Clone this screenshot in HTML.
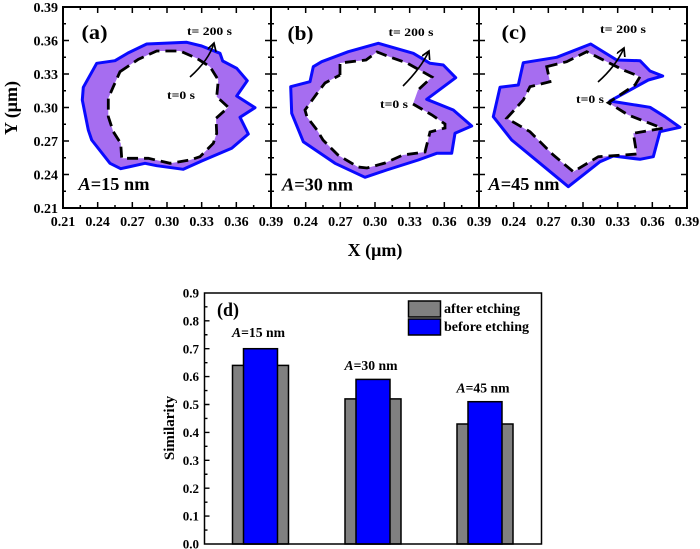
<!DOCTYPE html>
<html>
<head>
<meta charset="utf-8">
<style>
html,body{margin:0;padding:0;background:#fff;}
svg{display:block;}
text{font-family:"Liberation Serif","DejaVu Serif",serif;font-weight:bold;fill:#000;}
</style>
</head>
<body>
<svg width="700" height="549" viewBox="0 0 700 549" xmlns="http://www.w3.org/2000/svg">
<defs>
<marker id="ah" markerWidth="12" markerHeight="12" refX="8" refY="4.5" orient="auto" markerUnits="userSpaceOnUse">
<path d="M0,0 L8,4.5 L0,9" fill="none" stroke="#000" stroke-width="1.7"/>
</marker>
</defs>

<!-- ===== Panel (a) shapes ===== -->
<path fill="#a66df0" fill-rule="evenodd" d="M96.7,63.3 L115,60.7 L128,53 L146.7,44 L186.7,42.3 L201.7,46 L220,53.3 L222.7,61 L236.7,68.3 L247.3,80.7 L236.7,96 L255,107.7 L240,117.3 L248.3,134 L231.7,148.3 L201.7,161 L183.3,169.3 L156.7,165.7 L145,163.3 L120.7,168.7 L110,163.3 L91.7,140 L88.3,130 L82.3,100 L83.3,87.3 Z M120,71.7 L138.3,59.3 L156.7,51 L180,51 L196.7,58.3 L210,66.7 L218.3,80 L216.7,96.7 L228.3,107.3 L216,118.3 L216.7,133.3 L213.3,143.3 L200,156.7 L190,160 L170,163.3 L148.3,158.3 L121.7,158.3 L120.7,143.3 L113.3,131.7 L108.3,116.7 L108.3,98.3 L113.3,86.7 Z"/>
<path fill="none" stroke="#0a0aff" stroke-width="3" stroke-linejoin="round" d="M96.7,63.3 L115,60.7 L128,53 L146.7,44 L186.7,42.3 L201.7,46 L220,53.3 L222.7,61 L236.7,68.3 L247.3,80.7 L236.7,96 L255,107.7 L240,117.3 L248.3,134 L231.7,148.3 L201.7,161 L183.3,169.3 L156.7,165.7 L145,163.3 L120.7,168.7 L110,163.3 L91.7,140 L88.3,130 L82.3,100 L83.3,87.3 Z"/>
<path fill="none" stroke="#000" stroke-width="2.8" stroke-dasharray="11 6" d="M120,71.7 L138.3,59.3 L156.7,51 L180,51 L196.7,58.3 L210,66.7 L218.3,80 L216.7,96.7 L228.3,107.3 L216,118.3 L216.7,133.3 L213.3,143.3 L200,156.7 L190,160 L170,163.3 L148.3,158.3 L121.7,158.3 L120.7,143.3 L113.3,131.7 L108.3,116.7 L108.3,98.3 L113.3,86.7 Z"/>
<path fill="none" stroke="#000" stroke-width="1.6" d="M190,77 Q209,60 214,43" marker-end="url(#ah)"/>

<!-- ===== Panel (b) shapes ===== -->
<path fill="#a66df0" fill-rule="evenodd" d="M378.3,43.3 L413.3,53.3 L430,63.3 L443.3,65 L455.7,77.7 L426.7,99.3 L453.3,110 L471.7,126 L455,133.3 L451.7,153.3 L436.7,153.3 L418.3,160 L386.7,170 L365,177.3 L335,163.3 L303.3,141.7 L291.7,113.3 L290.7,86.7 L310,81.7 L313.3,66.7 L321.7,61.7 L348.3,51.7 Z M340,75 L340,63 L366,60 L377,52 L390,57 L407,63 L432,77 L418,90 L413,104 L432,115 L445,124 L445,128 L430,132 L425,152 L403,155 L385,163 L367,168 L358,167 L338,155 L323,140 L317,130 L307,117 L305,110 L318,92 L325,83 Z"/>
<path fill="none" stroke="#0a0aff" stroke-width="3" stroke-linejoin="round" d="M378.3,43.3 L413.3,53.3 L430,63.3 L443.3,65 L455.7,77.7 L426.7,99.3 L453.3,110 L471.7,126 L455,133.3 L451.7,153.3 L436.7,153.3 L418.3,160 L386.7,170 L365,177.3 L335,163.3 L303.3,141.7 L291.7,113.3 L290.7,86.7 L310,81.7 L313.3,66.7 L321.7,61.7 L348.3,51.7 Z"/>
<path fill="none" stroke="#000" stroke-width="2.8" stroke-dasharray="11 6" d="M340,75 L340,63 L366,60 L377,52 L390,57 L407,63 L432,77 L418,90 M413,104 L432,115 L445,124 L445,128 L430,132 L425,152 L403,155 L385,163 L367,168 L358,167 L338,155 L323,140 L317,130 L307,117 L305,110 L318,92 L325,83 L340,75"/>
<path fill="none" stroke="#000" stroke-width="1.6" d="M403,86 Q421,68 429,51" marker-end="url(#ah)"/>

<!-- ===== Panel (c) shapes ===== -->
<path fill="#a66df0" fill-rule="evenodd" d="M590.7,44 L616.7,60 L640,60.7 L650,71 L662.7,76 L648.3,80 L610,101 L650,107.3 L665,116.7 L680,127.3 L660,131.7 L653.3,156.7 L640,159.3 L613.3,156 L600,161.7 L568.3,186.7 L540,163.3 L511.7,140 L493.3,116.7 L500,87.3 L518.3,85 L523.3,62.7 L556.7,57.3 Z M546.7,66.7 L566.7,61.7 L586.7,51.7 L603.3,60 L623.3,70 L640,76.7 L635,85 L608.3,102.7 L628.3,115 L662.7,128.3 L633.3,133.3 L636.7,154 L623.3,155 L598.3,156.7 L573.3,171.7 L553.3,155 L530,131.7 L506.7,118.3 L523.3,100 L530,86.7 L550,81.7 Z"/>
<path fill="none" stroke="#0a0aff" stroke-width="3" stroke-linejoin="round" d="M590.7,44 L616.7,60 L640,60.7 L650,71 L662.7,76 L648.3,80 L610,101 L650,107.3 L665,116.7 L680,127.3 L660,131.7 L653.3,156.7 L640,159.3 L613.3,156 L600,161.7 L568.3,186.7 L540,163.3 L511.7,140 L493.3,116.7 L500,87.3 L518.3,85 L523.3,62.7 L556.7,57.3 Z"/>
<path fill="none" stroke="#000" stroke-width="2.8" stroke-dasharray="11 6" d="M546.7,66.7 L566.7,61.7 L586.7,51.7 L603.3,60 L623.3,70 L640,76.7 L635,85 L608.3,102.7 L628.3,115 L662.7,128.3 L633.3,133.3 L636.7,154 L623.3,155 L598.3,156.7 L573.3,171.7 L553.3,155 L530,131.7 L506.7,118.3 L523.3,100 L530,86.7 L550,81.7 Z"/>
<path fill="none" stroke="#000" stroke-width="1.6" d="M598,82 Q616,66 624,48" marker-end="url(#ah)"/>

<!-- ===== Frames top ===== -->
<rect x="63" y="7" width="624" height="201" fill="none" stroke="#000" stroke-width="2"/>
<line x1="271" y1="7" x2="271" y2="208" stroke="#000" stroke-width="2"/>
<line x1="479" y1="7" x2="479" y2="208" stroke="#000" stroke-width="2"/>

<!-- X ticks bottom & top -->
<path fill="none" stroke="#000" stroke-width="1.5" d="
M63,208v-6M97.67,208v-6M132.33,208v-6M167,208v-6M201.67,208v-6M236.33,208v-6M271,208v-6M305.67,208v-6M340.33,208v-6M375,208v-6M409.67,208v-6M444.33,208v-6M479,208v-6M513.67,208v-6M548.33,208v-6M583,208v-6M617.67,208v-6M652.33,208v-6M687,208v-6
M80.33,208v-3M115,208v-3M149.67,208v-3M184.33,208v-3M219,208v-3M253.67,208v-3M288.33,208v-3M323,208v-3M357.67,208v-3M392.33,208v-3M427,208v-3M461.67,208v-3M496.33,208v-3M531,208v-3M565.67,208v-3M600.33,208v-3M635,208v-3M669.67,208v-3
M63,7v6M97.67,7v6M132.33,7v6M167,7v6M201.67,7v6M236.33,7v6M271,7v6M305.67,7v6M340.33,7v6M375,7v6M409.67,7v6M444.33,7v6M479,7v6M513.67,7v6M548.33,7v6M583,7v6M617.67,7v6M652.33,7v6M687,7v6
M80.33,7v3M115,7v3M149.67,7v3M184.33,7v3M219,7v3M253.67,7v3M288.33,7v3M323,7v3M357.67,7v3M392.33,7v3M427,7v3M461.67,7v3M496.33,7v3M531,7v3M565.67,7v3M600.33,7v3M635,7v3M669.67,7v3
"/>
<!-- Y ticks -->
<path fill="none" stroke="#000" stroke-width="1.5" d="
M63,174.5h6M63,141h6M63,107.5h6M63,74h6M63,40.5h6
M63,191.25h3M63,157.75h3M63,124.25h3M63,90.75h3M63,57.25h3M63,23.75h3
M265,174.5h12M265,141h12M265,107.5h12M265,74h12M265,40.5h12
M268,191.25h6M268,157.75h6M268,124.25h6M268,90.75h6M268,57.25h6M268,23.75h6
M473,174.5h12M473,141h12M473,107.5h12M473,74h12M473,40.5h12
M476,191.25h6M476,157.75h6M476,124.25h6M476,90.75h6M476,57.25h6M476,23.75h6
M687,174.5h-6M687,141h-6M687,107.5h-6M687,74h-6M687,40.5h-6
M687,191.25h-3M687,157.75h-3M687,124.25h-3M687,90.75h-3M687,57.25h-3M687,23.75h-3
"/>

<!-- Y tick labels -->
<g font-size="14" text-anchor="end">
<text x="58" y="12">0.39</text>
<text x="58" y="45.5">0.36</text>
<text x="58" y="79">0.33</text>
<text x="58" y="112.5">0.30</text>
<text x="58" y="146">0.27</text>
<text x="58" y="179.5">0.24</text>
<text x="58" y="213">0.21</text>
</g>
<!-- X tick labels -->
<g font-size="14" text-anchor="middle">
<text x="63" y="226">0.21</text>
<text x="97.67" y="226">0.24</text>
<text x="132.33" y="226">0.27</text>
<text x="167" y="226">0.30</text>
<text x="201.67" y="226">0.33</text>
<text x="236.33" y="226">0.36</text>
<text x="271" y="226">0.39</text>
<text x="305.67" y="226">0.24</text>
<text x="340.33" y="226">0.27</text>
<text x="375" y="226">0.30</text>
<text x="409.67" y="226">0.33</text>
<text x="444.33" y="226">0.36</text>
<text x="479" y="226">0.39</text>
<text x="513.67" y="226">0.24</text>
<text x="548.33" y="226">0.27</text>
<text x="583" y="226">0.30</text>
<text x="617.67" y="226">0.33</text>
<text x="652.33" y="226">0.36</text>
<text x="687" y="226">0.39</text>
</g>

<text x="375" y="256" font-size="18" text-anchor="middle">X (μm)</text>
<text transform="translate(17,108) rotate(-90)" font-size="18" text-anchor="middle">Y (μm)</text>

<!-- panel labels -->
<text x="81.5" y="39" font-size="20" textLength="26" lengthAdjust="spacingAndGlyphs">(a)</text>
<text x="287.5" y="40" font-size="20" textLength="26" lengthAdjust="spacingAndGlyphs">(b)</text>
<text x="501.5" y="39" font-size="20" textLength="25" lengthAdjust="spacingAndGlyphs">(c)</text>

<text x="78.5" y="190" font-size="18" textLength="71" lengthAdjust="spacingAndGlyphs"><tspan font-style="italic">A</tspan>=15 nm</text>
<text x="282" y="190.5" font-size="18" textLength="71" lengthAdjust="spacingAndGlyphs"><tspan font-style="italic">A</tspan>=30 nm</text>
<text x="488.5" y="190" font-size="18" textLength="71" lengthAdjust="spacingAndGlyphs"><tspan font-style="italic">A</tspan>=45 nm</text>

<g font-size="12">
<text x="187" y="35" textLength="45" lengthAdjust="spacingAndGlyphs">t= 200 s</text>
<text x="167" y="99" textLength="28" lengthAdjust="spacingAndGlyphs">t=0 s</text>
<text x="388.5" y="36" textLength="45" lengthAdjust="spacingAndGlyphs">t= 200 s</text>
<text x="380" y="108" textLength="28" lengthAdjust="spacingAndGlyphs">t=0 s</text>
<text x="600" y="33" textLength="46" lengthAdjust="spacingAndGlyphs">t= 200 s</text>
<text x="576" y="103" textLength="28" lengthAdjust="spacingAndGlyphs">t=0 s</text>
</g>

<!-- ===== Panel (d) ===== -->
<g stroke="#000" stroke-width="1.5">
<rect x="232.5" y="365.4" width="56" height="178.6" fill="#808080"/>
<rect x="243.5" y="348.7" width="34" height="195.3" fill="#0000ff"/>
<rect x="345" y="398.9" width="56" height="145.1" fill="#808080"/>
<rect x="356" y="379.4" width="34" height="164.6" fill="#0000ff"/>
<rect x="457" y="424" width="56" height="120" fill="#808080"/>
<rect x="468" y="401.7" width="34" height="142.3" fill="#0000ff"/>
</g>
<rect x="204.5" y="293" width="337" height="251" fill="none" stroke="#000" stroke-width="1.5"/>
<path fill="none" stroke="#000" stroke-width="1.4" d="
M204.5,516.1h5M204.5,488.2h5M204.5,460.3h5M204.5,432.4h5M204.5,404.5h5M204.5,376.6h5M204.5,348.7h5M204.5,320.8h5
M204.5,530.05h3M204.5,502.15h3M204.5,474.25h3M204.5,446.35h3M204.5,418.45h3M204.5,390.55h3M204.5,362.65h3M204.5,334.75h3M204.5,306.85h3
"/>
<g font-size="13" text-anchor="end">
<text x="199" y="297.5">0.9</text>
<text x="199" y="325.4">0.8</text>
<text x="199" y="353.3">0.7</text>
<text x="199" y="381.2">0.6</text>
<text x="199" y="409.1">0.5</text>
<text x="199" y="437">0.4</text>
<text x="199" y="464.9">0.3</text>
<text x="199" y="492.8">0.2</text>
<text x="199" y="520.7">0.1</text>
<text x="199" y="548.6">0.0</text>
</g>
<text transform="translate(174,428) rotate(-90)" font-size="15" text-anchor="middle">Similarity</text>

<text x="217" y="316" font-size="19" textLength="22" lengthAdjust="spacingAndGlyphs">(d)</text>

<rect x="408.5" y="301" width="32" height="16" fill="#808080" stroke="#000" stroke-width="1.5"/>
<rect x="408.5" y="319" width="32" height="16" fill="#0000ff" stroke="#000" stroke-width="1.5"/>
<text x="444" y="313" font-size="14" textLength="76" lengthAdjust="spacingAndGlyphs">after etching</text>
<text x="444" y="331" font-size="14" textLength="85" lengthAdjust="spacingAndGlyphs">before etching</text>

<g font-size="14">
<text x="232" y="337" textLength="53" lengthAdjust="spacingAndGlyphs"><tspan font-style="italic">A</tspan>=15 nm</text>
<text x="344.5" y="370" textLength="53" lengthAdjust="spacingAndGlyphs"><tspan font-style="italic">A</tspan>=30 nm</text>
<text x="456.5" y="392.5" textLength="53" lengthAdjust="spacingAndGlyphs"><tspan font-style="italic">A</tspan>=45 nm</text>
</g>
</svg>
</body>
</html>
